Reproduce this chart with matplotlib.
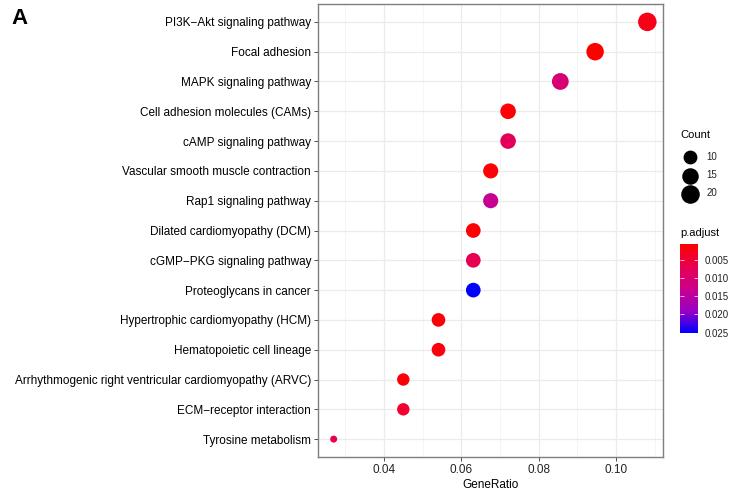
import numpy as np
import matplotlib
matplotlib.use("Agg")
import matplotlib.pyplot as plt
from matplotlib.colors import LinearSegmentedColormap, Normalize
from matplotlib.cm import ScalarMappable

plt.rcParams['font.family'] = ['Liberation Sans', 'DejaVu Sans']

terms = ["PI3K−Akt signaling pathway", "Focal adhesion", "MAPK signaling pathway",
         "Cell adhesion molecules (CAMs)", "cAMP signaling pathway",
         "Vascular smooth muscle contraction", "Rap1 signaling pathway",
         "Dilated cardiomyopathy (DCM)", "cGMP−PKG signaling pathway",
         "Proteoglycans in cancer", "Hypertrophic cardiomyopathy (HCM)",
         "Hematopoietic cell lineage",
         "Arrhythmogenic right ventricular cardiomyopathy (ARVC)",
         "ECM−receptor interaction", "Tyrosine metabolism"]
gene_ratio = [0.1081, 0.0946, 0.0856, 0.0721, 0.0721, 0.0676, 0.0676, 0.0631,
              0.0631, 0.0631, 0.0541, 0.0541, 0.0450, 0.0450, 0.0270]
counts = [24, 21, 19, 16, 16, 15, 15, 14, 14, 14, 12, 12, 10, 10, 6]
p_adjust = [0.0025, 0.0006, 0.0105, 0.0012, 0.0075, 0.0010, 0.0135, 0.0009,
            0.0070, 0.0251, 0.0011, 0.0016, 0.0013, 0.0045, 0.0068]
x_ticks = [0.04, 0.06, 0.08, 0.10]
size_breaks = [10, 15, 20]
p_breaks = [0.005, 0.010, 0.015, 0.020, 0.025]

dpi = 100
# red -> blue, interpolated through Lab like ggplot does
cmap = LinearSegmentedColormap.from_list(
    'rb', ['#FF0000', '#E80050', '#CB008A', '#9A00C3', '#0000FF'])
norm = Normalize(vmin=min(p_adjust), vmax=max(p_adjust))

cmin, cmax = min(counts), max(counts)


def dot_size(c):
    # ggplot area palette: diameter in px from 7 to 18.5
    d = 7 + 11.5 * np.sqrt((np.asarray(c, float) - cmin) / (cmax - cmin))
    return (d * 72 / dpi) ** 2


fig = plt.figure(figsize=(7.33, 4.94), dpi=dpi)
ax = fig.add_axes([318 / 733, 1 - 457 / 494, 345 / 733, 453 / 494])

ypos = np.arange(len(terms))
ax.scatter(gene_ratio, ypos, s=dot_size(counts), c=cmap(norm(p_adjust)),
           edgecolors='none', zorder=3)

ax.set_ylim(len(terms) - 0.4, -0.6)
ax.set_yticks(ypos)
ax.set_yticklabels(terms, fontsize=8.5, color='black')
span = max(gene_ratio) - min(gene_ratio)
ax.set_xlim(min(gene_ratio) - 0.05 * span, max(gene_ratio) + 0.05 * span)
ax.set_xticks(x_ticks)
ax.set_xticklabels(['%.2f' % v for v in x_ticks], fontsize=8.5, color='#222222')
ax.set_xticks([0.03, 0.05, 0.07, 0.09, 0.11], minor=True)
ax.tick_params(which='major', length=3, width=0.6, color='#333333', pad=2)
ax.tick_params(which='minor', length=0)
ax.grid(which='major', color='#EBEBEB', linewidth=0.9, zorder=0)
ax.grid(which='minor', axis='x', color='#F2F2F2', linewidth=0.5, zorder=0)
ax.set_axisbelow(True)
for sp in ax.spines.values():
    sp.set_color('#7F7F7F')
    sp.set_linewidth(1.0)
ax.set_xlabel('GeneRatio', fontsize=8.5, labelpad=2)

fig.text(11 / 733, 1 - 19 / 494, 'A', fontsize=16, fontweight='bold', va='center', ha='left')

# Count legend
fig.text(680 / 733, 1 - 135 / 494, 'Count', fontsize=8, va='center', ha='left')
handles = [ax.scatter([], [], s=dot_size(c), color='black') for c in size_breaks]
leg = ax.legend(handles, [str(c) for c in size_breaks],
                loc='upper left', bbox_to_anchor=(678 / 733, 1 - 147 / 494),
                bbox_transform=fig.transFigure, frameon=False, fontsize=7,
                labelspacing=0.85, handletextpad=0.9,
                borderpad=0, handlelength=1.5)
for t in leg.get_texts():
    t.set_color('#222222')

# p.adjust colorbar
fig.text(680 / 733, 1 - 233 / 494, 'p.adjust', fontsize=8, va='center', ha='left')
cax = fig.add_axes([680 / 733, 1 - 333 / 494, 18 / 733, 89 / 494])
cb = fig.colorbar(ScalarMappable(norm=norm, cmap=cmap), cax=cax)
cb.outline.set_visible(False)
cb.set_ticks(p_breaks)
cb.set_ticklabels(['%.3f' % v for v in p_breaks])
cax.invert_yaxis()
cax.tick_params(direction='in', length=3, width=0.5, color='white',
                left=True, right=True, labelsize=7, labelcolor='#222222', pad=5)

fig.savefig('out.png', dpi=dpi)
